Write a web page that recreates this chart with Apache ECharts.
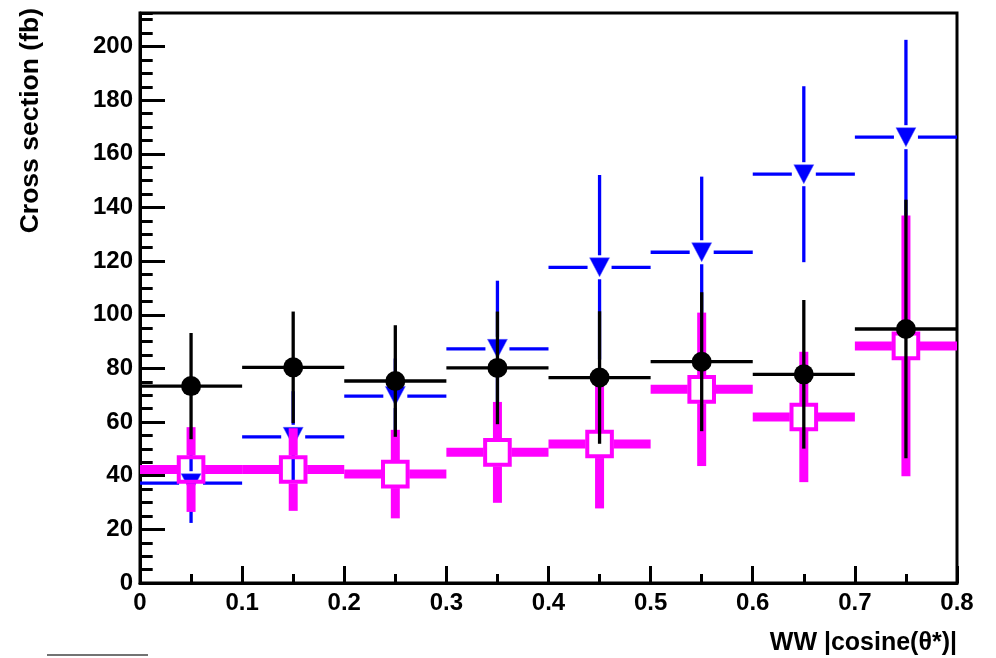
<!DOCTYPE html>
<html>
<head>
<meta charset="utf-8">
<script src="https://cdn.jsdelivr.net/npm/echarts@6/dist/echarts.min.js"></script>
<style>
html,body{margin:0;padding:0;background:#fff;}
#main{width:996px;height:658px;}
</style>
</head>
<body>
<div id="main"></div>
<script>
// bin centres (|cos theta*|) and half bin width
var binCenters = [0.05, 0.15, 0.25, 0.35, 0.45, 0.55, 0.65, 0.75];
var binHalfWidth = 0.05;
// black filled circles
var blackY   = [73.4, 80.4, 75.3, 80.2, 76.6, 82.5, 77.8, 94.7];
var blackErr = [19.8, 20.8, 20.8, 21.0, 24.7, 25.9, 27.7, 48.2];
// blue down triangles
var blueY    = [37.2, 54.5, 69.7, 87.3, 117.7, 123.3, 152.4, 166.2];
var blueErr  = [14.8, 17.0, 14.0, 25.4, 34.4, 28.2, 32.8, 36.3];
// magenta open squares
var magY     = [42.3, 42.3, 40.6, 48.7, 51.8, 72.2, 61.9, 88.4];
var magErr   = [15.8, 15.4, 16.5, 18.8, 24.0, 28.6, 24.3, 48.6];
// axis ticks
var xTicks = ['0', '0.1', '0.2', '0.3', '0.4', '0.5', '0.6', '0.7', '0.8'];
var yMajorStep = 20, yMinorStep = 5, yMax = 212.5;

function build(ys, errs) {
  return binCenters.map(function (x, i) { return [x, ys[i], errs[i]]; });
}

function makeRender(kind) {
  return function (params, api) {
    var x = api.value(0), y = api.value(1), e = api.value(2);
    var c = api.coord([x, y]);
    var l = api.coord([x - binHalfWidth, y]);
    var r = api.coord([x + binHalfWidth, y]);
    var t = api.coord([x, y + e]);
    var b = api.coord([x, y - e]);
    var children = [];
    var col, lw, gh, gv;
    if (kind === 'blue') { col = '#0000ff'; lw = 3.3; gh = 12; gv = 12; }
    else if (kind === 'mag') { col = '#ff00ff'; lw = 9; gh = 14; gv = 14; }
    else { col = '#000000'; lw = 3.3; gh = 0; gv = 0; }
    var st = { stroke: col, lineWidth: lw, fill: null };
    function seg(x1, y1, x2, y2) {
      children.push({ type: 'line', shape: { x1: x1, y1: y1, x2: x2, y2: y2 }, style: st });
    }
    if (l[0] < c[0] - gh) seg(l[0], c[1], c[0] - gh, c[1]);
    if (r[0] > c[0] + gh) seg(c[0] + gh, c[1], r[0], c[1]);
    if (t[1] < c[1] - gv) seg(c[0], t[1], c[0], c[1] - gv);
    if (b[1] > c[1] + gv) seg(c[0], c[1] + gv, c[0], b[1]);
    if (kind === 'blue') {
      children.push({ type: 'polygon', shape: { points: [[c[0] - 10, c[1] - 9.5], [c[0] + 10, c[1] - 9.5], [c[0], c[1] + 9.5]] },
        style: { fill: '#0000ff', stroke: '#6666ff', lineWidth: 0.5 } });
    } else if (kind === 'mag') {
      children.push({ type: 'rect', shape: { x: c[0] - 12.3, y: c[1] - 12.3, width: 24.6, height: 24.6 },
        style: { fill: null, stroke: '#ff00ff', lineWidth: 4 } });
    } else {
      children.push({ type: 'circle', shape: { cx: c[0], cy: c[1], r: 10 }, style: { fill: '#000000' } });
    }
    return { type: 'group', children: children };
  };
}

var chart = echarts.init(document.getElementById('main'), null, { renderer: 'canvas' });
var font = '"Liberation Sans", Arial, sans-serif';
chart.setOption({
  backgroundColor: '#ffffff',
  animation: false,
  grid: { left: 140, right: 39, top: 13, bottom: 75, show: true, borderColor: '#000', borderWidth: 3, backgroundColor: 'transparent' },
  xAxis: {
    type: 'value', min: 0, max: 0.8, interval: 0.1,
    axisLine: { show: true, onZero: false, lineStyle: { color: '#000', width: 3 } },
    axisTick: { show: true, inside: true, length: 17, lineStyle: { color: '#000', width: 3 } },
    minorTick: { show: true, splitNumber: 2, length: 9, lineStyle: { color: '#000', width: 3 } },
    splitLine: { show: false },
    axisLabel: { margin: 8, color: '#000', fontSize: 24, fontWeight: 'bold', fontFamily: font,
      formatter: function (v) { var i = Math.round(v * 10); return xTicks[i] !== undefined ? xTicks[i] : ''; } }
  },
  yAxis: [{
    type: 'value', position: 'left', min: 0, max: yMax, interval: yMajorStep,
    axisLine: { show: true, onZero: false, lineStyle: { color: '#000', width: 3 } },
    axisTick: { show: true, inside: true, length: 25, lineStyle: { color: '#000', width: 3 } },
    splitLine: { show: false },
    axisLabel: { margin: 7, color: '#000', fontSize: 24, fontWeight: 'bold', fontFamily: font, showMaxLabel: false,
      formatter: function (v) { return (v % yMajorStep === 0) ? String(v) : ''; } }
  }, {
    type: 'value', position: 'left', offset: 0, min: 0, max: yMax, interval: yMinorStep,
    axisLine: { show: false },
    axisTick: { show: true, inside: true, length: 12.7, lineStyle: { color: '#000', width: 3 } },
    splitLine: { show: false },
    axisLabel: { show: false }
  }],
  series: [
    { type: 'custom', name: 'blue', renderItem: makeRender('blue'), data: build(blueY, blueErr), encode: { x: 0, y: 1 }, z: 2 },
    { type: 'custom', name: 'mag', renderItem: makeRender('mag'), data: build(magY, magErr), encode: { x: 0, y: 1 }, z: 3 },
    { type: 'custom', name: 'black', renderItem: makeRender('black'), data: build(blackY, blackErr), encode: { x: 0, y: 1 }, z: 4 }
  ],
  graphic: [
    { type: 'text', x: 31, y: 8, rotation: Math.PI / 2,
      style: { text: 'Cross section (fb)', fill: '#000', font: 'bold 26.5px ' + font, textAlign: 'right', textVerticalAlign: 'middle' } },
    { type: 'text', x: 957, y: 643,
      style: { text: 'WW |cosine(θ*)|', fill: '#000', font: 'bold 25px ' + font, textAlign: 'right', textVerticalAlign: 'middle' } },
    { type: 'line', shape: { x1: 47, y1: 655, x2: 148, y2: 655 }, style: { stroke: '#444', lineWidth: 1.5 } }
  ]
});
</script>
</body>
</html>
